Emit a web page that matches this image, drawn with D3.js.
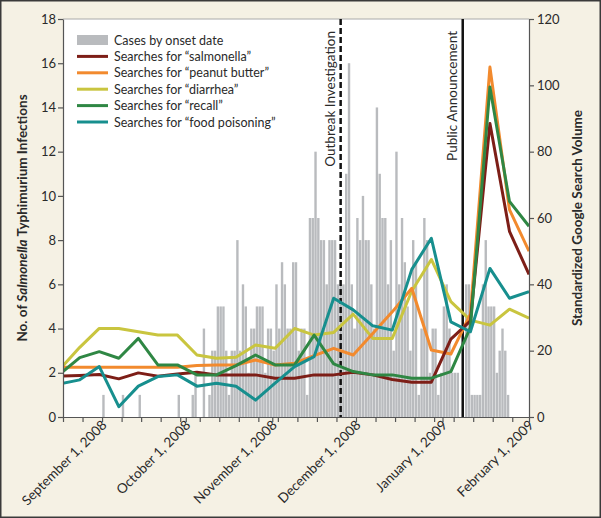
<!DOCTYPE html>
<html><head><meta charset="utf-8">
<script src="https://cdn.jsdelivr.net/npm/d3@7"></script>
<style>
body{margin:0;background:#f5f1e4}
svg{display:block}
text{font-family:Lato,"Open Sans",sans-serif;fill:#2a2a2a}
</style>
</head><body>
<script>
// ---------- data ----------
const caseStartDate = "2008-08-18";
// daily case counts by onset date, starting at caseStartDate
const casesByDay = [
 0,0,0,0,0,0,0,0,0,0,0,0,0,0,
 1,0,0,0,0,0,0,
 1,0,0,0,0,0,
 1,0,0,0,0,0,0,0,0,0,0,0,0,0,
 1,0,0,0,0,
 1,2,0,0,4,0,1,3,3,5,5,5,3,1,3,3,8,3,6,5,2,4,4,5,5,5,2,4,4,3,6,4,7,6,4,4,7,7,3,4,4,1,
 9,9,12,9,8,8,6,8,8,8,6,6,6,11,16,6,4,9,8,10,8,8,6,4,14,11,9,9,6,8,3,12,6,9,7,5,3,8,7,1,
 4,9,8,2,4,4,1,2,5,6,4,2,2,2,0,0,6,6,1,1,1,1,6,8,5,5,5,2,3,4,3,1
];
// weekly search volume points (week dates)
const weekDates = ["2008-08-17","2008-08-24","2008-08-31","2008-09-07","2008-09-14","2008-09-21","2008-09-28",
 "2008-10-05","2008-10-12","2008-10-19","2008-10-26","2008-11-02","2008-11-09","2008-11-16","2008-11-23",
 "2008-11-30","2008-12-07","2008-12-14","2008-12-21","2008-12-28","2009-01-04","2009-01-11","2009-01-18",
 "2009-01-25","2009-02-01"];
const salmonella   = [12.3,12.5,12.8,11.5,13.3,12.3,13.0,13.5,12.7,12.7,12.7,11.7,11.7,12.7,12.7,13.5,12.7,11.3,10.5,10.5,23.5,29.0,88.5,56.0,43.0];
const peanutButter = [15.0,15.0,15.0,15.0,15.0,15.0,15.0,15.5,15.7,15.7,17.2,15.7,16.2,18.5,20.7,18.7,25.2,31.7,38.8,20.2,19.0,31.0,105.5,62.5,50.0];
const diarrhea     = [14.5,21.0,26.7,26.7,25.7,24.7,24.7,18.7,17.7,18.0,21.7,20.7,26.7,24.7,25.5,31.0,23.7,23.7,38.0,47.5,34.8,29.2,27.7,32.5,29.8];
const recall       = [13.0,17.9,19.7,17.7,23.7,15.7,15.7,12.7,12.7,15.5,18.7,15.7,15.7,24.7,16.0,13.7,12.7,12.7,11.7,11.7,13.7,27.0,99.5,65.0,57.5];
const foodPoisoning= [10.0,11.2,15.2,3.1,9.3,12.2,12.7,9.3,10.2,9.3,5.1,10.2,15.2,18.2,35.8,32.3,27.5,26.2,44.5,53.9,28.7,25.7,44.8,35.8,37.8];

const seriesNames  = ["Searches for \u201csalmonella\u201d","Searches for \u201cpeanut butter\u201d","Searches for \u201cdiarrhea\u201d","Searches for \u201crecall\u201d","Searches for \u201cfood poisoning\u201d"];
const seriesColors = ["#7d1e17","#f28a2e","#c9c53f","#2f8744","#178f8e"];
const seriesValues = [salmonella, peanutButter, diarrhea, recall, foodPoisoning];
const drawOrder    = [2,1,0,3,4];

const leftTicks  = [0,2,4,6,8,10,12,14,16,18];
const rightTicks = [0,20,40,60,80,100,120];
const monthTickDates  = ["2008-09-01","2008-10-01","2008-11-01","2008-12-01","2009-01-01","2009-02-01"];
const monthTickLabels = ["September 1, 2008","October 1, 2008","November 1, 2008","December 1, 2008","January 1, 2009","February 1, 2009"];
const eventDates  = ["2008-11-25 12:00","2009-01-08 06:00"];
const eventLabels = ["Outbreak Investigation","Public Announcement"];
const eventDashed = [true,false];
const xDomain = ["2008-08-18","2009-02-01"];

// ---------- chart ----------
const W = 601, H = 518;
const m = {left:63, right:72, top:19, bottom:101};
const pw = W - m.left - m.right, ph = H - m.top - m.bottom;
const pd = d3.utcParse("%Y-%m-%d"), pdt = d3.utcParse("%Y-%m-%d %H:%M");

const svg = d3.select("body").append("svg").attr("width",W).attr("height",H);
svg.append("rect").attr("x",0.75).attr("y",0.75).attr("width",W-1.5).attr("height",H-1.5)
   .attr("fill","#f5f1e4").attr("stroke","#3a3a3a").attr("stroke-width",1.5);

const g = svg.append("g").attr("transform",`translate(${m.left},${m.top})`);
g.append("rect").attr("width",pw).attr("height",ph).attr("fill","#fff");
g.append("line").attr("x1",0).attr("x2",pw).attr("y1",0).attr("y2",0).attr("stroke","#aaa").attr("stroke-width",1);

const x = d3.scaleUtc().domain(xDomain.map(pd)).range([0,pw]);
const yL = d3.scaleLinear().domain([0,18]).range([ph,0]);
const yR = d3.scaleLinear().domain([0,120]).range([ph,0]);

g.append("clipPath").attr("id","clip").append("rect").attr("width",pw).attr("height",ph);

// bars
const start = pd(caseStartDate);
const barData = casesByDay.map((v,i)=>({d:d3.utcDay.offset(start,i), v})).filter(b=>b.v>0);
g.append("g").attr("clip-path","url(#clip)").selectAll("rect").data(barData).join("rect")
  .attr("x",b=>x(b.d)+0.2)
  .attr("width",b=>x(d3.utcDay.offset(b.d,1))-x(b.d)-0.4)
  .attr("y",b=>yL(b.v)).attr("height",b=>yL(0)-yL(b.v))
  .attr("fill","#b9bbbe");

// event lines
eventDates.forEach((ds,i)=>{
  const ex = x(pdt(ds));
  g.append("line").attr("x1",ex).attr("x2",ex).attr("y1",0).attr("y2",ph)
    .attr("stroke","#111").attr("stroke-width",2.5)
    .attr("stroke-dasharray",eventDashed[i]?"6,3":null);
  g.append("text").attr("transform",`translate(${ex-5.5},12) rotate(-90)`)
    .attr("text-anchor","end").attr("font-size",13.5).attr("fill","#111").text(eventLabels[i]);
});

// search lines
const wd = weekDates.map(pd);
const line = d3.line().x((v,i)=>x(wd[i])).y(v=>yR(v));
const lg = g.append("g").attr("clip-path","url(#clip)");
drawOrder.forEach(k=>{
  lg.append("path").attr("d",line(seriesValues[k])).attr("fill","none")
    .attr("stroke",seriesColors[k]).attr("stroke-width",3).attr("stroke-linejoin","round");
});

// axes
const axisColor = "#555";
const mDates = monthTickDates.map(pd);
const mondays = d3.utcMonday.range(x.domain()[0], d3.utcDay.offset(x.domain()[1],1))
  .filter(d=>!mDates.some(t=>+t===+d));
const allTicks = mondays.concat(mDates);
const xAxis = g.append("g").attr("transform",`translate(0,${ph})`)
  .call(d3.axisBottom(x).tickValues(allTicks).tickSize(5).tickSizeOuter(0).tickFormat(d=>{
     const j = mDates.findIndex(t=>+t===+d); return j>=0?monthTickLabels[j]:"";
  }));
xAxis.selectAll("text").attr("transform","translate(5,9) rotate(-45)").attr("x",0).attr("y",0).attr("dy",0)
  .attr("text-anchor","end").attr("font-size",13.5).attr("font-family","Lato").attr("fill","#2a2a2a");

const yAxisL = g.append("g").call(d3.axisLeft(yL).tickValues(leftTicks).tickSize(5).tickSizeOuter(0));
yAxisL.selectAll("text").attr("font-size",13).attr("font-family","Lato").attr("fill","#2a2a2a").attr("x",-7);
const yAxisR = g.append("g").attr("transform",`translate(${pw},0)`)
  .call(d3.axisRight(yR).tickValues(rightTicks).tickSize(5).tickSizeOuter(0));
yAxisR.selectAll("text").attr("font-size",13).attr("font-family","Lato").attr("fill","#2a2a2a").attr("x",8);
[xAxis,yAxisL,yAxisR].forEach(a=>{a.selectAll("path,line").attr("stroke",axisColor).attr("stroke-width",1.2);});

// axis titles
const lt = svg.append("text").attr("transform",`translate(27,${m.top+ph/2}) rotate(-90)`)
  .attr("text-anchor","middle").attr("font-size",13.5).attr("font-weight",700);
lt.append("tspan").text("No. of ");
lt.append("tspan").attr("font-style","italic").text("Salmonella");
lt.append("tspan").text(" Typhimurium Infections");
svg.append("text").attr("transform",`translate(582,${m.top+ph/2}) rotate(-90)`)
  .attr("text-anchor","middle").attr("font-size",13.5).attr("font-weight",700)
  .text("Standardized Google Search Volume");

// legend
const leg = svg.append("g").attr("transform","translate(77,40)");
leg.append("rect").attr("x",0).attr("y",-5).attr("width",31).attr("height",10).attr("fill","#b9bbbe");
leg.append("text").attr("x",37).attr("y",4.5).attr("font-size",12.5).text("Cases by onset date");
seriesNames.forEach((n,i)=>{
  const yy = 16.4*(i+1);
  leg.append("line").attr("x1",0).attr("x2",31).attr("y1",yy).attr("y2",yy)
    .attr("stroke",seriesColors[i]).attr("stroke-width",3);
  leg.append("text").attr("x",37).attr("y",yy+4.5).attr("font-size",12.5).text(n);
});
</script>
</body></html>
